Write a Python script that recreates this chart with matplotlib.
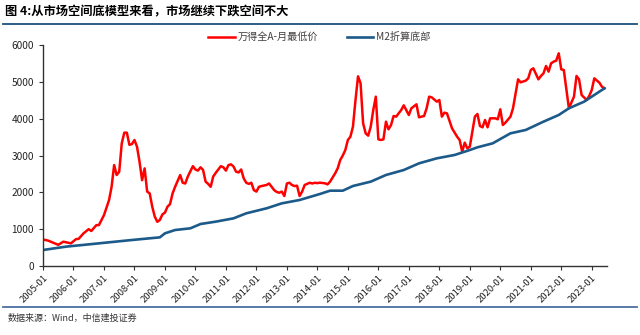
import numpy as np
import matplotlib.pyplot as plt
from matplotlib.lines import Line2D

plt.rcParams['font.family'] = ['Noto Sans CJK SC', 'DejaVu Sans']

# Data, months as 'YYYY-MM'
red_dates = ['2005-01', '2005-03', '2005-07', '2005-09', '2005-11', '2005-12', '2006-02', '2006-03',
             '2006-05', '2006-07', '2006-08', '2006-10', '2006-11', '2007-01', '2007-03', '2007-04',
             '2007-05', '2007-06', '2007-07', '2007-08', '2007-09', '2007-10', '2007-11', '2007-12',
             '2008-01', '2008-02', '2008-03', '2008-04', '2008-05', '2008-06', '2008-07', '2008-08',
             '2008-09', '2008-10', '2008-11', '2008-12', '2009-01', '2009-02', '2009-03', '2009-04',
             '2009-05', '2009-07', '2009-08', '2009-09', '2009-10', '2009-12', '2010-01', '2010-02',
             '2010-03', '2010-04', '2010-05', '2010-06', '2010-07', '2010-08', '2010-09', '2010-11',
             '2010-12', '2011-01', '2011-02', '2011-03', '2011-04', '2011-05', '2011-06', '2011-07',
             '2011-08', '2011-09', '2011-10', '2011-11', '2011-12', '2012-01', '2012-02', '2012-03',
             '2012-05', '2012-06', '2012-07', '2012-08', '2012-09', '2012-10', '2012-11', '2012-12',
             '2013-01', '2013-02', '2013-03', '2013-04', '2013-05', '2013-06', '2013-07', '2013-08',
             '2013-10', '2013-11', '2013-12', '2014-01', '2014-02', '2014-04', '2014-05', '2014-06',
             '2014-08', '2014-09', '2014-10', '2014-11', '2014-12', '2015-01', '2015-02', '2015-03',
             '2015-04', '2015-05', '2015-06', '2015-07', '2015-08', '2015-09', '2015-10', '2015-11',
             '2015-12', '2016-01', '2016-02', '2016-03', '2016-04', '2016-05', '2016-06', '2016-07',
             '2016-08', '2016-10', '2016-11', '2017-01', '2017-02', '2017-04', '2017-05', '2017-07',
             '2017-08', '2017-09', '2017-10', '2017-12', '2018-01', '2018-02', '2018-03', '2018-04',
             '2018-06', '2018-08', '2018-09', '2018-10', '2018-11', '2018-12', '2019-01', '2019-03',
             '2019-04', '2019-05', '2019-06', '2019-07', '2019-08', '2019-09', '2019-11', '2019-12',
             '2020-01', '2020-02', '2020-03', '2020-05', '2020-06', '2020-08', '2020-09', '2020-11',
             '2020-12', '2021-01', '2021-02', '2021-04', '2021-05', '2021-06', '2021-07', '2021-08',
             '2021-09', '2021-10', '2021-11', '2021-12', '2022-01', '2022-02', '2022-04', '2022-06',
             '2022-07', '2022-08', '2022-09', '2022-11', '2022-12', '2023-01', '2023-02', '2023-04',
             '2023-05', '2023-06']
red_values = [720, 690, 575, 660, 630, 615, 730, 735,
              890, 1000, 950, 1110, 1110, 1380, 1790, 2150,
              2740, 2470, 2560, 3330, 3620, 3620, 3290, 3310,
              3420, 3240, 2830, 2330, 2650, 2020, 1970, 1610,
              1340, 1200, 1250, 1400, 1450, 1610, 1680, 1970,
              2150, 2470, 2260, 2240, 2430, 2710, 2620, 2590,
              2680, 2610, 2290, 2230, 2150, 2430, 2530, 2710,
              2680, 2590, 2740, 2760, 2700, 2560, 2540, 2620,
              2380, 2260, 2230, 2260, 2060, 2020, 2150, 2170,
              2200, 2240, 2150, 2060, 2010, 1990, 2020, 1900,
              2240, 2260, 2200, 2170, 2180, 1900, 2020, 2200,
              2260, 2240, 2260, 2250, 2262, 2245, 2217, 2290,
              2516, 2652, 2878, 3000, 3149, 3421, 3511, 3783,
              4500, 5150, 4960, 3874, 3602, 3539, 3783, 4235,
              4597, 3439, 3421, 3439, 3919, 3711, 3828, 4073,
              4055, 4235, 4362, 4100, 4281, 4390, 4037, 4073,
              4281, 4597, 4579, 4462, 4507, 4055, 4163, 4145,
              3738, 3511, 3421, 3104, 3349, 3195, 3240, 4055,
              4127, 3801, 3765, 3964, 3765, 4010, 4010, 3983,
              4254, 3828, 3892, 4055, 4281, 5068, 4987, 5032,
              5095, 5321, 5367, 5068, 5159, 5231, 5430, 5276,
              5503, 5548, 5575, 5774, 5340, 5321, 4281, 4597,
              5159, 5068, 4643, 4507, 4616, 4778, 5095, 4977,
              4868, 4824]

blue_dates = ['2005-01', '2005-10', '2006-11', '2007-12', '2008-11', '2009-01', '2009-05', '2009-11',
              '2010-03', '2010-09', '2011-04', '2011-09', '2012-05', '2012-11', '2013-06', '2014-02',
              '2014-06', '2014-11', '2015-03', '2015-10', '2016-04', '2016-11', '2017-05', '2017-12',
              '2018-07', '2019-01', '2019-04', '2019-10', '2020-05', '2020-11', '2021-06', '2021-12',
              '2022-04', '2022-10', '2023-02', '2023-06']
blue_values = [434, 525, 615, 706, 778, 887, 977, 1023,
               1140, 1204, 1294, 1430, 1566, 1701, 1792, 1955,
               2045, 2045, 2172, 2290, 2471, 2606, 2787, 2923,
               3014, 3149, 3222, 3330, 3602, 3693, 3919, 4100,
               4281, 4462, 4643, 4824]

year_labels = ['%d-01' % y for y in range(2005, 2024)]

title = '图 4:从市场空间底模型来看，市场继续下跌空间不大'
source = '数据来源：Wind，中信建投证券'


def month_index(s):
    y, m = s.split('-')
    return (int(y) - 2005) * 12 + int(m) - 1


red_x = [month_index(d) for d in red_dates]
blue_x = [month_index(d) for d in blue_dates]

fig = plt.figure(figsize=(6.4, 3.35), dpi=100)
ax = fig.add_axes([43 / 640, 69 / 335, 564 / 640, 221 / 335])

ax.plot(red_x, red_values, color='#ff0000', linewidth=1.8, label='万得全A-月最低价')
ax.plot(blue_x, blue_values, color='#1c5a8a', linewidth=1.9, label='M2折算底部')

ax.set_xlim(0, 222)
ax.set_ylim(0, 6000)
ax.set_yticks(np.arange(0, 6001, 1000))
ax.set_xticks([month_index(s) for s in year_labels])
ax.set_xticklabels(year_labels, rotation=45, ha='right', rotation_mode='anchor', fontsize=6.8)
ax.tick_params(axis='y', labelsize=7.3, length=3, color='#333333', labelcolor='#222222')
ax.tick_params(axis='x', length=3, color='#333333', labelcolor='#222222', pad=2)
for sp in ['top', 'right']:
    ax.spines[sp].set_visible(False)
for sp in ['left', 'bottom']:
    ax.spines[sp].set_color('#333333')
    ax.spines[sp].set_linewidth(1.0)

leg = ax.legend(loc='upper center', bbox_to_anchor=(0.49, 1.10), ncol=2, frameon=False,
                fontsize=7.3, handlelength=2.6, columnspacing=2.8, handletextpad=0.3)
for t in leg.get_texts():
    t.set_color('#404040')

# Title and the two rules
fig.text(5 / 640, 1 - 12 / 335, title, fontsize=8.8, fontweight='bold', va='center', ha='left')
fig.add_artist(Line2D([3 / 640, 637 / 640], [1 - 24 / 335] * 2, color='#1f4e79', linewidth=1.3))
fig.add_artist(Line2D([3 / 640, 637 / 640], [1 - 307 / 335] * 2, color='#4a6fa0', linewidth=1.3))
fig.text(8 / 640, 1 - 318 / 335, source, fontsize=6.5, style='italic', va='center', ha='left',
         color='#333333')

plt.savefig('out.png', dpi=100)
plt.close()
